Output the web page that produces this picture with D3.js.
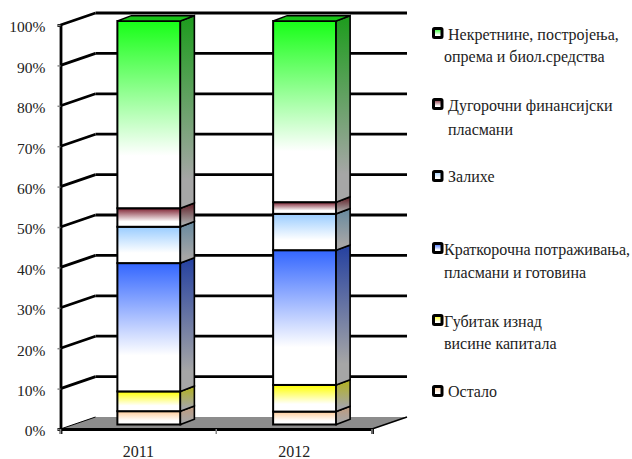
<!DOCTYPE html>
<html>
<head>
<meta charset="utf-8">
<script src="https://cdn.jsdelivr.net/npm/d3@7"></script>
<style>
  body { margin: 0; background: #fff; }
  text { font-family: "Liberation Serif", serif; fill: #222; }
</style>
</head>
<body>
<div id="chart"></div>
<script>
var categories = ['2011', '2012'];
var seriesKeys = ['ostalo', 'gubitak', 'kratkorocna', 'zalihe', 'dugorocni', 'nekretnine'];
var ostalo      = [3.3, 3.2];
var gubitak     = [4.9, 6.6];
var kratkorocna = [31.8, 33.4];
var zalihe      = [9.0, 9.0];
var dugorocni   = [4.6, 2.9];
var nekretnine  = [46.4, 44.9];
var values = { ostalo: ostalo, gubitak: gubitak, kratkorocna: kratkorocna, zalihe: zalihe, dugorocni: dugorocni, nekretnine: nekretnine };

var frontColors = { ostalo: '#ffcc99', gubitak: '#ffff00', kratkorocna: '#3366ff', zalihe: '#99ccff', dugorocni: '#7d2030', nekretnine: '#17ff17' };
var sideColors  = { ostalo: '#c09a7c', gubitak: '#b2b21a', kratkorocna: '#2440a0', zalihe: '#66899f', dugorocni: '#5e1a22', nekretnine: '#1c9c1c' };

var legendLabels = [
    { key: 'nekretnine', lines: ['Некретнине, постројења,', 'опрема и биол.средства'], xs: [448, 444], ys: [40, 62], box: 33 },
    { key: 'dugorocni', lines: ['Дугорочни финансијски', 'пласмани'], xs: [448, 448], ys: [111, 135], box: 104 },
    { key: 'zalihe', lines: ['Залихе'], xs: [448], ys: [182], box: 176 },
    { key: 'kratkorocna', lines: ['Краткорочна потраживања,', 'пласмани и готовина'], xs: [444, 444], ys: [255, 278], box: 248 },
    { key: 'gubitak', lines: ['Губитак изнад', 'висине капитала'], xs: [444, 444], ys: [327, 349], box: 320 },
    { key: 'ostalo', lines: ['Остало'], xs: [448], ys: [397], box: 391 }
];

var chart_width = 632;
var chart_height = 459;
var wall_dx = 35, wall_dy = 12;      // depth of the 3d box
var bar_dx = 14, bar_dy = 5.3;       // depth of a bar
var bar_width = 63;

var svg = d3.select('#chart').append('svg')
    .attr('width', chart_width)
    .attr('height', chart_height);

var x = d3.scaleBand().domain(categories).range([60.5, 372]);
var y = d3.scaleLinear().domain([0, 100]).range([429, 25]);
var yBar = d3.scaleLinear().domain([0, 100]).range([424.5, 21]);
var ticks = d3.range(0, 101, 10);

var rows = categories.map(function(c, i) {
    var row = { category: c };
    seriesKeys.forEach(function(k) { row[k] = values[k][i]; });
    return row;
});
var stacked = d3.stack().keys(seriesKeys)(rows);

// gradients, one per series and per face
var defs = svg.append('defs');
function addGradient(id, color, white, stop) {
    var g = defs.append('linearGradient').attr('id', id)
        .attr('x1', 0).attr('y1', 0).attr('x2', 0).attr('y2', 1);
    g.append('stop').attr('offset', 0).attr('stop-color', color);
    g.append('stop').attr('offset', stop).attr('stop-color', white);
    g.append('stop').attr('offset', 1).attr('stop-color', white);
}
seriesKeys.forEach(function(k) {
    addGradient('front-' + k, frontColors[k], '#ffffff', 0.72);
    addGradient('side-' + k, sideColors[k], '#a6a6a6', 0.85);
});

// floor
svg.append('path')
    .attr('d', d3.line()([[x.range()[0], y(0)], [x.range()[0] + wall_dx, y(0) - wall_dy], [x.range()[1] + wall_dx, y(0) - wall_dy], [x.range()[1], y(0)]]) + 'Z')
    .attr('fill', '#8c8c8c');

// back wall grid lines and the slanted ones on the side wall
svg.selectAll('.grid')
    .data(ticks.filter(function(d) { return d > 0; }))
    .enter()
    .append('line')
    .attr('class', 'grid')
    .attr('x1', x.range()[0] + wall_dx)
    .attr('x2', x.range()[1] + wall_dx)
    .attr('y1', function(d) { return y(d) - wall_dy; })
    .attr('y2', function(d) { return y(d) - wall_dy; })
    .attr('stroke', '#000')
    .attr('stroke-width', 2.8);

svg.selectAll('.slant')
    .data(ticks)
    .enter()
    .append('line')
    .attr('class', 'slant')
    .attr('x1', x.range()[0])
    .attr('x2', x.range()[0] + wall_dx)
    .attr('y1', function(d) { return y(d); })
    .attr('y2', function(d) { return y(d) - wall_dy; })
    .attr('stroke', '#000')
    .attr('stroke-width', function(d) { return d === 0 ? 1 : 2.8; });

// right edge of floor
svg.append('line')
    .attr('x1', x.range()[1]).attr('y1', y(0))
    .attr('x2', x.range()[1] + wall_dx).attr('y2', y(0) - wall_dy)
    .attr('stroke', '#000').attr('stroke-width', 1.5);

// axes
var yAxis = svg.append('g')
    .attr('transform', 'translate(' + x.range()[0] + ',0)')
    .call(d3.axisLeft(y).tickValues(ticks).tickSize(3).tickFormat(function(d) { return d + '%'; }));
yAxis.select('.domain').attr('stroke', '#000').attr('stroke-width', 2.8);
yAxis.selectAll('.tick line').attr('stroke', '#888').attr('stroke-width', 1.5);
yAxis.selectAll('text').attr('font-size', 15.5).attr('x', -15).attr('dy', '0.45em').attr('font-family', '"Liberation Serif", serif');

var xAxis = svg.append('g')
    .attr('transform', 'translate(0,' + y(0) + ')')
    .call(d3.axisBottom(x).tickSize(5).tickPadding(12).tickFormat(function(d) { return d; }));
xAxis.selectAll('.tick line').remove();
xAxis.selectAll('text').attr('font-size', 16).attr('font-family', '"Liberation Serif", serif');
xAxis.select('.domain').attr('stroke', '#000').attr('stroke-width', 2.8);
svg.selectAll('.xtick')
    .data([x.range()[0], x.range()[0] + x.bandwidth(), x.range()[1]])
    .enter()
    .append('line')
    .attr('class', 'xtick')
    .attr('x1', function(d) { return d; })
    .attr('x2', function(d) { return d; })
    .attr('y1', y(0))
    .attr('y2', y(0) + 5)
    .attr('stroke', '#888')
    .attr('stroke-width', 1.5);

// bars
function barLeft(d) {
    return x(d.data.category) + x.bandwidth() / 2 + 10.5 - bar_width / 2;
}
var layers = svg.selectAll('.layer')
    .data(stacked)
    .enter()
    .append('g')
    .attr('class', 'layer');

layers.each(function(s) {
    var g = d3.select(this);
    var line = d3.line();
    s.forEach(function(d) {
        var l = barLeft(d), r = l + bar_width;
        var y0 = yBar(d[0]), y1 = yBar(d[1]);
        g.append('rect')
            .attr('x', l).attr('y', y1)
            .attr('width', bar_width).attr('height', y0 - y1)
            .attr('fill', 'url(#front-' + s.key + ')')
            .attr('stroke', '#000').attr('stroke-width', 2);
        g.append('path')
            .attr('d', line([[r, y1], [r + bar_dx, y1 - bar_dy], [r + bar_dx, y0 - bar_dy], [r, y0]]) + 'Z')
            .attr('fill', 'url(#side-' + s.key + ')')
            .attr('stroke', '#000').attr('stroke-width', 1.6);
        if (d[1] >= 99.9) {
            g.append('path')
                .attr('d', line([[l, y1], [l + bar_dx, y1 - bar_dy], [r + bar_dx, y1 - bar_dy], [r, y1]]) + 'Z')
                .attr('fill', '#17c417')
                .attr('stroke', '#000').attr('stroke-width', 1.4);
        }
    });
});

// legend
var legend = svg.selectAll('.legend')
    .data(legendLabels)
    .enter()
    .append('g')
    .attr('class', 'legend');

legend.append('rect')
    .attr('x', 433.5)
    .attr('y', function(d) { return d.box - 4.5; })
    .attr('width', 8.5)
    .attr('height', 9)
    .attr('rx', 1)
    .attr('fill', function(d) { return 'url(#front-' + d.key + ')'; })
    .attr('stroke', '#000')
    .attr('stroke-width', 3);

legend.each(function(d) {
    var g = d3.select(this);
    d.lines.forEach(function(t, i) {
        g.append('text')
            .attr('x', d.xs[i])
            .attr('y', d.ys[i])
            .attr('font-size', 16)
            .text(t);
    });
});
</script>
</body>
</html>
